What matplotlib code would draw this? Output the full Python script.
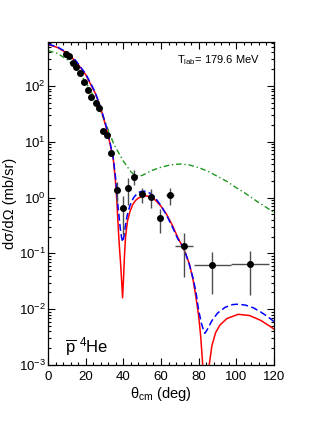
import matplotlib
matplotlib.use("Agg")
import matplotlib.pyplot as plt
import numpy as np
from matplotlib.ticker import LogLocator, MultipleLocator, LogFormatterMathtext, NullFormatter

plt.rcParams["font.family"] = ["Liberation Sans", "DejaVu Sans"]
plt.rcParams["mathtext.fontset"] = "custom"
plt.rcParams["mathtext.rm"] = "Liberation Sans"
plt.rcParams["mathtext.it"] = "Liberation Sans:italic"
plt.rcParams["mathtext.default"] = "regular"

# Measured points (theta_cm in deg, dsigma/dOmega in mb/sr)
theta_data = [9.6, 11.2, 13.1, 15.1, 17.0, 19.0, 21.0, 23.0, 25.3, 27.2, 29.4, 31.2, 33.7,
              36.8, 39.6, 42.6, 45.5, 49.7, 54.5, 59.5, 64.8, 72.2, 87.3, 107.3]
xs_data = [377, 351, 262, 220, 168, 119, 86, 63, 50, 41, 15.3, 13.0, 6.4,
           1.37, 0.64, 1.49, 2.38, 1.15, 1.04, 0.43, 1.10, 0.133, 0.0615, 0.064]
xs_err = [25, 24, 18, 15, 12, 8, 6, 4.5, 3.5, 3, 1.3, 1.1, 0.6,
          0.55, 0.43, 0.75, 0.7, 0.35, 0.4, 0.2, 0.37, 0.095, 0.043, 0.046]
theta_err = [0, 0, 0, 0, 0, 0, 0, 0, 0, 0, 0, 0, 0,
             0, 0, 0, 0, 0, 0, 0, 2, 5, 10, 10]

# Red solid curve
theta_red = [0, 5, 10, 15, 20, 25, 28, 31, 33, 34.7, 35.8, 36.5, 37.0, 37.5, 38.0, 38.5,
             39.1, 39.6, 40.1, 40.6, 41.2, 42.2, 43.5, 45, 46.5, 48, 50, 51.5, 53, 55, 57,
             60, 63, 66, 69, 72, 75, 77, 78.5, 80, 81, 82, 83, 83.8, 84.6, 85.6, 87, 89,
             91.3, 95, 101, 107, 113, 118, 120]
xs_red = [555, 490, 390, 270, 160, 75, 40, 17.5, 9.0, 4.8, 2.0, 0.93, 0.45, 0.22, 0.12, 0.07,
          0.032, 0.016, 0.035, 0.09, 0.2, 0.38, 0.56, 0.75, 0.89, 0.98, 1.06, 1.08, 1.06, 0.99, 0.9,
          0.7, 0.5, 0.32, 0.19, 0.122, 0.066, 0.034, 0.017, 0.0075, 0.0035, 0.0012, 0.0002, 0.00001, 0.0002, 0.001, 0.0022, 0.0038,
          0.0052, 0.0068, 0.0081, 0.0077, 0.0063, 0.0049, 0.0044]

# Blue dashed curve
theta_blue = [0, 5, 10, 15, 20, 25, 28, 31, 33, 34.7, 35.8, 36.5, 37.0, 37.5, 38.0, 38.5,
              39.1, 39.7, 40.3, 41.0, 42.0, 43.5, 45.3, 47, 48.5, 50, 51.5, 53, 55, 57,
              60, 63, 66, 69, 72, 75, 77, 78.5, 80, 81.5, 82.5, 83.3, 84.2, 85, 87, 90,
              94, 98, 101, 105, 109, 113, 117, 120]
xs_blue = [565, 500, 400, 278, 165, 78, 41, 18.5, 9.5, 5.0, 2.4, 1.3, 0.8, 0.55, 0.37, 0.26,
           0.19, 0.16, 0.2, 0.3, 0.47, 0.72, 0.98, 1.15, 1.25, 1.3, 1.3, 1.26, 1.15, 0.98,
           0.72, 0.48, 0.3, 0.18, 0.128, 0.064, 0.036, 0.021, 0.0095, 0.0055, 0.0043, 0.0037, 0.0041, 0.0046, 0.0062, 0.0085,
           0.0108, 0.0121, 0.0123, 0.0118, 0.0106, 0.0089, 0.0072, 0.006]

# Green dash-dotted curve
theta_green = [0, 5, 10, 15, 20, 25, 30, 35, 40, 44, 46, 48, 50, 52.5, 55, 60, 65, 70,
               75, 80, 85, 90, 95, 100, 105, 110, 115, 120]
xs_green = [430, 385, 300, 205, 118, 58, 24, 9.0, 4.5, 2.9, 2.55, 2.42, 2.5, 2.75, 3.05, 3.5, 3.85, 4.0,
            3.85, 3.45, 2.95, 2.4, 1.95, 1.5, 1.18, 0.9, 0.7, 0.54]

fig = plt.figure(figsize=(3.32, 4.30), dpi=100)
ax = fig.add_axes([48 / 332, 1 - 365 / 430, 226 / 332, 323 / 430])

ax.plot(theta_green, xs_green, color="#1f961f", lw=1.0, dashes=(4, 2, 1, 2))
ax.plot(theta_red, xs_red, color="red", lw=1.1)
ax.plot(theta_blue, xs_blue, color="blue", lw=1.1, dashes=(4.5, 2.2))
ax.errorbar(theta_data, xs_data, yerr=xs_err, xerr=theta_err, fmt="o", color="black",
            ms=4, ecolor="0.3", elinewidth=1.0, capsize=0, zorder=5)

ax.set_yscale("log")
ax.set_xlim(0, 120)
ax.set_ylim(1e-3, 614)

ax.xaxis.set_major_locator(MultipleLocator(20))
ax.xaxis.set_minor_locator(MultipleLocator(4))
ax.yaxis.set_major_locator(LogLocator(base=10, numticks=20))
ax.yaxis.set_minor_locator(LogLocator(base=10, subs=np.arange(2, 10), numticks=20))
ax.yaxis.set_major_formatter(LogFormatterMathtext())
ax.yaxis.set_minor_formatter(NullFormatter())

ax.tick_params(which="both", direction="in", top=True, right=True, labelsize=9.5, width=0.8)
ax.tick_params(which="major", length=5)
ax.tick_params(which="minor", length=2.5)
ax.tick_params(axis="y", pad=1.5)
ax.tick_params(axis="x", pad=4)
for s in ax.spines.values():
    s.set_linewidth(0.9)

ax.set_xlabel("θ$_{\\rm cm}$ (deg)", fontsize=10.5, labelpad=2)
ax.set_ylabel("dσ/dΩ (mb/sr)", fontsize=10.5)
ax.yaxis.set_label_coords(-0.135, 0.5)

ax.text(0.57, 0.935, "T$_{\\rm lab}$= 179.6 MeV", transform=ax.transAxes, fontsize=8)
ax.text(0.075, 0.04, "$\\overline{\\rm p}$ $^{4}$He", transform=ax.transAxes, fontsize=12)

fig.savefig("out.png", dpi=100)
